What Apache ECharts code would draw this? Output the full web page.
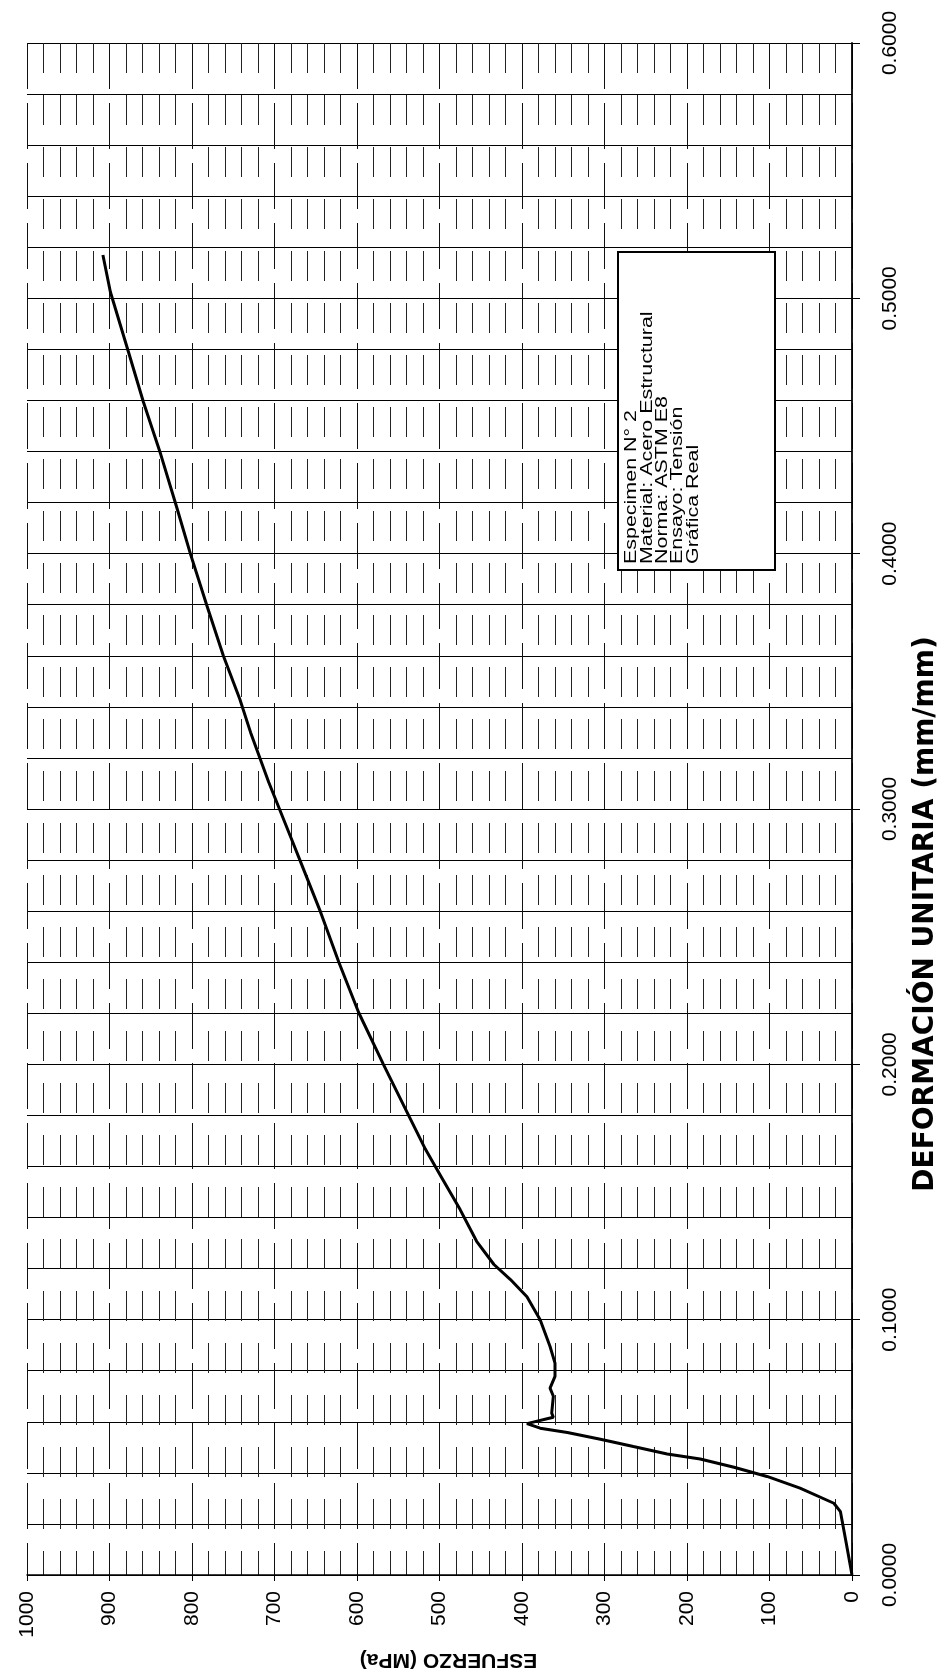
<!DOCTYPE html>
<html>
<head>
<meta charset="utf-8">
<script src="https://cdn.jsdelivr.net/npm/echarts@6/dist/echarts.min.js"></script>
<style>
html,body{margin:0;padding:0;background:#fff;}
#c{width:939px;height:1679px;}
</style>
</head>
<body>
<div id="c"></div>
<script>
// Deformación unitaria (mm/mm) — curve points
const strain = [0, 0.0125, 0.0248, 0.0281, 0.034, 0.0386, 0.0422, 0.0454, 0.0474, 0.0503, 0.0532, 0.0558, 0.0575, 0.0593,
  0.0618, 0.0634, 0.070, 0.0732, 0.0778, 0.083, 0.0895, 0.100, 0.109, 0.1157, 0.1216, 0.1307, 0.1431, 0.156, 0.1667,
  0.1797, 0.200, 0.2203, 0.240, 0.2595, 0.279, 0.2895, 0.3105, 0.330, 0.343, 0.360, 0.3797, 0.400, 0.4176, 0.439,
  0.4595, 0.479, 0.5026, 0.517];
// Esfuerzo (MPa) — curve points
const stress = [0, 7, 14, 22, 63, 103, 143, 184, 224, 265, 305, 345, 378, 394,
  362, 364, 362, 366, 360, 360, 366, 378, 394, 414, 434, 455, 475, 498, 517,
  537, 568, 598, 622, 644, 668, 681, 707, 729, 742, 762, 782, 802, 818, 838,
  859, 877, 899, 908];

const stressAxis = { min: 0, max: 1000, major: 100, minorSplit: 5 };
const strainAxis = { min: 0, max: 0.6, major: 0.1, minorSplit: 5 };

const xTitle = 'ESFUERZO (MPa)';
const yTitle = 'DEFORMACIÓN UNITARIA (mm/mm)';
const legendLines = ['Especimen N° 2', 'Material: Acero Estructural', 'Norma: ASTM E8', 'Ensayo: Tensión', 'Gráfica Real'];

const chart = echarts.init(document.getElementById('c'), null, { renderer: 'canvas' });

const vMajor = { color: '#111', width: 1, type: [46, 14] };
const vMinor = { color: '#222', width: 1, type: [30, 22] };
const hLine = { color: '#000', width: 1.2, type: 'solid' };
const labelFont = 'Liberation Sans, Arial, sans-serif';

const gridBox = { left: 27, right: 87, top: 43, bottom: 104, containLabel: false, outerBoundsMode: 'none' };

const legendX0 = 618, legendY0 = 252, legendW = 157, legendH = 318;

const legendChildren = [{
  type: 'rect',
  z: 100,
  shape: { x: legendX0, y: legendY0, width: legendW, height: legendH },
  style: { fill: '#fff', stroke: '#000', lineWidth: 2 }
}];
legendLines.forEach((t, i) => {
  legendChildren.push({
    type: 'text',
    z: 101,
    x: legendX0 + 14 + i * 15.3,
    y: legendY0 + legendH - 6,
    rotation: Math.PI / 2,
    scaleX: 1.34,
    style: {
      text: t, fill: '#000', fontSize: 16, fontFamily: labelFont,
      align: 'left', verticalAlign: 'middle'
    }
  });
});

chart.setOption({
  animation: false,
  backgroundColor: '#fff',
  grid: gridBox,
  xAxis: {
    type: 'value',
    inverse: true,
    position: 'bottom',
    min: stressAxis.min, max: stressAxis.max, interval: stressAxis.major,
    axisLine: { show: true, onZero: false, lineStyle: { color: '#000', width: 1.5 } },
    axisTick: { show: true, length: 6, lineStyle: { color: '#000', width: 1 } },
    axisLabel: { rotate: 90, margin: 16, fontSize: 21, color: '#000', fontFamily: labelFont,
      formatter: v => String(Math.round(v)) },
    splitLine: { show: true, lineStyle: vMajor },
    minorTick: { show: false, splitNumber: stressAxis.minorSplit },
    minorSplitLine: { show: true, lineStyle: vMinor },
    name: xTitle,
    nameLocation: 'middle',
    nameGap: 74,
    nameRotate: 180,
    nameTextStyle: { fontSize: 21, fontWeight: 'bold', fontFamily: labelFont, color: '#000',
      padding: [0, 18, 0, 0] }
  },
  yAxis: {
    type: 'value',
    position: 'right',
    min: strainAxis.min, max: strainAxis.max, interval: strainAxis.major,
    axisLine: { show: true, onZero: false, lineStyle: { color: '#000', width: 1.8 } },
    axisTick: { show: true, length: 8, lineStyle: { color: '#000', width: 1 } },
    axisLabel: { rotate: 90, margin: 28, fontSize: 21, color: '#000', fontFamily: labelFont,
      formatter: v => Number(v).toFixed(4) },
    splitLine: { show: true, lineStyle: hLine },
    minorTick: { show: false, splitNumber: strainAxis.minorSplit },
    minorSplitLine: { show: true, lineStyle: hLine },
    name: yTitle,
    nameLocation: 'middle',
    nameGap: 60,
    nameRotate: 90,
    nameTextStyle: { fontSize: 28, fontWeight: 'bold', fontFamily: 'DejaVu Sans, sans-serif', color: '#000',
      padding: [0, 210, 0, 0] }
  },
  series: [{
    type: 'line',
    data: stress.map((s, i) => [s, strain[i]]),
    showSymbol: false,
    smooth: false,
    lineStyle: { color: '#000', width: 3 },
    z: 5,
    silent: true
  }],
  graphic: [{ type: 'group', children: legendChildren }]
});
</script>
</body>
</html>
